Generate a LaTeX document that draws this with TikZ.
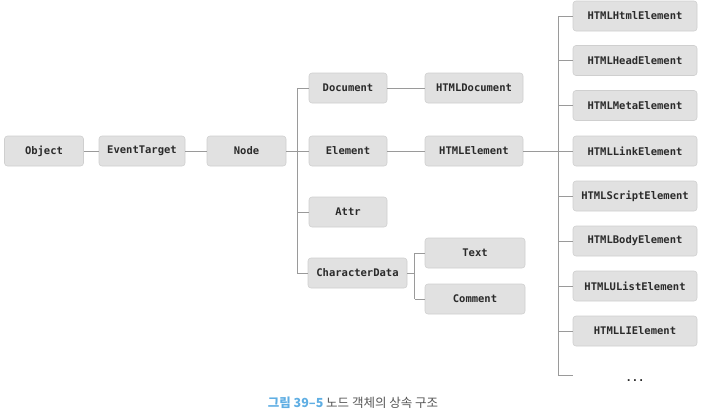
\documentclass[tikz,border=0pt]{standalone}
\usepackage{fontspec}
\setmonofont{DejaVu Sans Mono}
\newfontfamily\cjk{Noto Sans CJK KR}
\definecolor{boxfill}{HTML}{E1E1E1}
\definecolor{boxedge}{HTML}{CFCFCF}
\definecolor{boxtext}{HTML}{2A2A2A}
\definecolor{linecol}{HTML}{9A9A9A}
\definecolor{capblue}{HTML}{5FAEE3}
\definecolor{capgray}{HTML}{555555}
\begin{document}
\begin{tikzpicture}[x=1pt,y=-1pt,
  box/.style={draw=boxedge, fill=boxfill, rounded corners=3pt, line width=0.6pt,
    minimum height=30pt, inner sep=0pt, text=boxtext,
    font=\ttfamily\bfseries\fontsize{10.5}{12}\selectfont},
  conn/.style={draw=linecol, line width=0.8pt}]
\useasboundingbox (0,0) rectangle (701,416);
% first row
\node[box, minimum width=79pt] (obj) at (44,151) {Object};
\node[box, minimum width=86pt] (evt) at (142,151) {EventTarget};
\node[box, minimum width=79pt] (node) at (246.5,151) {Node};
% second column
\node[box, minimum width=78pt] (doc) at (348,88) {Document};
\node[box, minimum width=78pt] (elem) at (348,151) {Element};
\node[box, minimum width=78pt] (attr) at (348,212) {Attr};
\node[box, minimum width=99pt] (cd) at (357.5,273) {CharacterData};
% third column
\node[box, minimum width=98pt] (hdoc) at (474,88) {HTMLDocument};
\node[box, minimum width=98pt] (helem) at (474,151) {HTMLElement};
\node[box, minimum width=100pt] (text) at (475,253) {Text};
\node[box, minimum width=100pt] (comm) at (475,299) {Comment};
% right column
\node[box, minimum width=124pt] (r1) at (635,16) {HTMLHtmlElement};
\node[box, minimum width=124pt] (r2) at (635,60.5) {HTMLHeadElement};
\node[box, minimum width=124pt] (r3) at (635,105.5) {HTMLMetaElement};
\node[box, minimum width=124pt] (r4) at (635,151) {HTMLLinkElement};
\node[box, minimum width=124pt] (r5) at (635,196) {HTMLScriptElement};
\node[box, minimum width=124pt] (r6) at (635,241) {HTMLBodyElement};
\node[box, minimum width=124pt] (r7) at (635,286) {HTMLUListElement};
\node[box, minimum width=124pt] (r8) at (635,331) {HTMLLIElement};
\node[text=boxtext, font=\ttfamily\bfseries\fontsize{10.5}{12}\selectfont] (dots) at (635,381) {...};
\coordinate (rend) at (573,375);
% connectors
\draw[conn] (obj) -- (evt);
\draw[conn] (evt) -- (node);
\draw[conn] (node.east) -- ++(11,0) coordinate (j1);
\draw[conn] (j1 |- doc) -- (j1 |- cd);
\foreach \n in {doc,elem,attr,cd} \draw[conn] (j1 |- \n) -- (\n.west);
\draw[conn] (doc) -- (hdoc);
\draw[conn] (elem) -- (helem);
\draw[conn] (cd.east) -- ++(7.5,0) coordinate (j2);
\draw[conn] (j2 |- text) -- (j2 |- comm);
\draw[conn] (j2 |- text) -- (text.west);
\draw[conn] (j2 |- comm) -- (comm.west);
\draw[conn] (helem.east) -- ++(35,0) coordinate (j3);
\draw[conn] (j3 |- r1) -- (j3 |- rend);
\foreach \n in {r1,r2,r3,r4,r5,r6,r7,r8} \draw[conn] (j3 |- \n) -- (\n.west);
\draw[conn] (j3 |- rend) -- (rend);
% caption
\node[font=\cjk\fontsize{12.5}{14}\selectfont, text=capgray] (cap) at (353,403)
  {{\color{capblue}\bfseries 그림 39–5} 노드 객체의 상속 구조};
\end{tikzpicture}
\end{document}
